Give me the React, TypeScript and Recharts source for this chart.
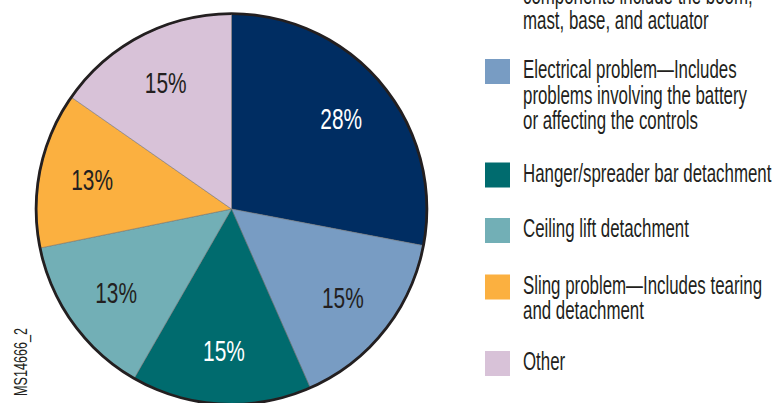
import React from "react";
import { PieChart, Pie, Cell } from "recharts";

const categories = [
  "Mechanical problem",
  "Electrical problem",
  "Hanger/spreader bar detachment",
  "Ceiling lift detachment",
  "Sling problem",
  "Other",
];
const shares = [28.0, 15.4, 14.9, 13.5, 12.9, 15.3];
const shareLabels = ["28%", "15%", "15%", "13%", "13%", "15%"];
const colors = ["#002D62", "#789CC3", "#006B6E", "#72AFB6", "#FBB040", "#D8C2D8"];
const labelColors = ["#FFFFFF", "#231F20", "#FFFFFF", "#231F20", "#231F20", "#231F20"];
const legendLines = [
  ["Mechanical problem—Lift", "components include the boom,", "mast, base, and actuator"],
  ["Electrical problem—Includes", "problems involving the battery", "or affecting the controls"],
  ["Hanger/spreader bar detachment"],
  ["Ceiling lift detachment"],
  ["Sling problem—Includes tearing", "and detachment"],
  ["Other"],
];
const legendTops = [-41, 59, 162.5, 218, 274.5, 351];
const figureId = "MS14666_2";

const data = categories.map((name, i) => ({ name, value: shares[i], label: shareLabels[i] }));
const ring = [{ name: "outline", value: 1 }];

const FONT = "'Liberation Sans', Arial, sans-serif";
const RAD = Math.PI / 180;
const INK = "#231F20";

const renderLabel = (props: any) => {
  const { cx, cy, midAngle, outerRadius, index } = props;
  const r = outerRadius * 0.73;
  const x = cx + r * Math.cos(-midAngle * RAD);
  const y = cy + r * Math.sin(-midAngle * RAD);
  return (
    <text
      transform={`translate(${x},${y}) scale(0.72,1)`}
      textAnchor="middle"
      dominantBaseline="central"
      fontFamily={FONT}
      fontSize={29}
      fill={labelColors[index]}
    >
      {shareLabels[index]}
    </text>
  );
};

export default function App() {
  const lineH = 25.5;
  return (
    <div
      style={{
        position: "absolute",
        left: 0,
        top: 0,
        width: 775,
        height: 403,
        overflow: "hidden",
        background: "#fff",
      }}
    >
      <PieChart width={775} height={403} margin={{ top: 0, right: 0, bottom: 0, left: 0 }}>
        <Pie
          data={data}
          dataKey="value"
          nameKey="name"
          cx={231.5}
          cy={209}
          outerRadius={195}
          startAngle={90}
          endAngle={-270}
          stroke="#6A6A6A"
          strokeWidth={0.5}
          label={renderLabel}
          labelLine={false}
          isAnimationActive={false}
        >
          {data.map((d, i) => (
            <Cell key={d.name} fill={colors[i]} />
          ))}
        </Pie>
        <Pie
          data={ring}
          dataKey="value"
          cx={231.5}
          cy={209}
          innerRadius={194}
          outerRadius={196.8}
          startAngle={90}
          endAngle={-270}
          fill={INK}
          stroke="none"
          legendType="none"
          isAnimationActive={false}
        />
      </PieChart>
      <svg
        width={775}
        height={403}
        style={{ position: "absolute", left: 0, top: 0, pointerEvents: "none" }}
      >
        {categories.map((c, i) => (
          <g key={c}>
            <rect x={485} y={legendTops[i]} width={25} height={25} fill={colors[i]} />
            {legendLines[i].map((ln, j) => (
              <text
                key={j}
                transform={`translate(523,${legendTops[i] + 19 + j * lineH}) scale(0.675,1)`}
                fontFamily={FONT}
                fontSize={25}
                fill={INK}
              >
                {ln}
              </text>
            ))}
          </g>
        ))}
        <text
          transform="translate(27,362) rotate(-90) scale(0.7,1)"
          textAnchor="middle"
          fontFamily={FONT}
          fontSize={18}
          fill={INK}
        >
          {figureId}
        </text>
      </svg>
    </div>
  );
}
